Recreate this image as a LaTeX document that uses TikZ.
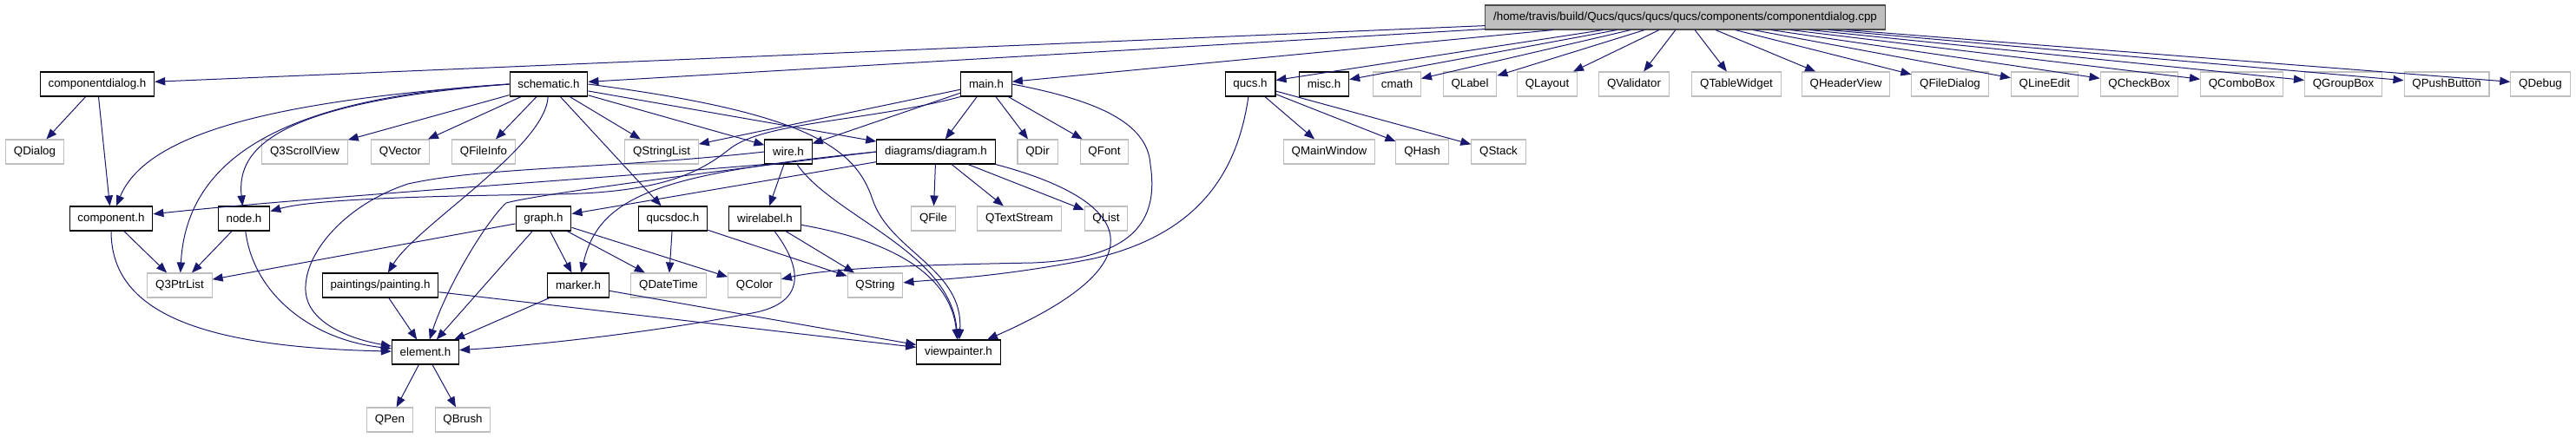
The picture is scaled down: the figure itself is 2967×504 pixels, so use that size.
\documentclass[tikz,border=0pt]{standalone}
\usepackage{fontspec}
\setmainfont{Liberation Sans}
\usepackage{tikz}
\usetikzlibrary{arrows.meta}
\usepackage{xcolor}
\definecolor{depblue}{RGB}{25,25,112}
\definecolor{extgray}{RGB}{191,191,191}
\definecolor{rootgray}{RGB}{191,191,191}

\begin{document}
\begin{tikzpicture}[
  x=0.75pt,y=-0.75pt,
  >={Triangle[length=9pt,width=7pt]},
  hdr/.style={draw=black,fill=white,line width=0.8pt,minimum height=21pt,inner xsep=7pt,inner ysep=0pt,font=\fontsize{10}{12}\selectfont},
  ext/.style={hdr,draw=extgray},
  rootfile/.style={hdr,fill=rootgray,draw=black!70},
  dep/.style={->,color=depblue,line width=0.75pt}
]
\useasboundingbox (0,0) rectangle (2967,504);

% Root: the file itself
\node[rootfile] (cpp) at (1941,20) {/home/travis/build/Qucs/qucs/qucs/qucs/components/componentdialog.cpp};

% Level 1: direct includes
\node[hdr] (cdlg) at (112,97) {componentdialog.h};
\node[hdr] (schem) at (632,97) {schematic.h};
\node[hdr] (mainh) at (1136,97) {main.h};
\node[hdr] (qucsh) at (1440,97) {qucs.h};
\node[hdr] (misch) at (1525,97) {misc.h};
\node[ext] (cmath) at (1609,97) {cmath};
\node[ext] (qlabel) at (1693,97) {QLabel};
\node[ext] (qlayout) at (1782,97) {QLayout};
\node[ext] (qvalid) at (1882,97) {QValidator};
\node[ext] (qtable) at (2000,97) {QTableWidget};
\node[ext] (qheader) at (2126,97) {QHeaderView};
\node[ext] (qfiledlg) at (2246,97) {QFileDialog};
\node[ext] (qlineedit) at (2355,97) {QLineEdit};
\node[ext] (qcheck) at (2464,97) {QCheckBox};
\node[ext] (qcombo) at (2582,97) {QComboBox};
\node[ext] (qgroup) at (2699,97) {QGroupBox};
\node[ext] (qpush) at (2818,97) {QPushButton};
\node[ext] (qdebug) at (2926,97) {QDebug};

% Level 2
\node[ext] (qdialog) at (40,175) {QDialog};
\node[ext] (qscroll) at (351,175) {Q3ScrollView};
\node[ext] (qvector) at (461,175) {QVector};
\node[ext] (qfileinfo) at (557,175) {QFileInfo};
\node[ext] (qstrlist) at (762,175) {QStringList};
\node[hdr] (wireh) at (908,175) {wire.h};
\node[hdr] (diagramh) at (1078,175) {diagrams/diagram.h};
\node[ext] (qdir) at (1195,175) {QDir};
\node[ext] (qfont) at (1272,175) {QFont};
\node[ext] (qmainwin) at (1531,175) {QMainWindow};
\node[ext] (qhash) at (1638,175) {QHash};
\node[ext] (qstack) at (1726,175) {QStack};

% Level 3
\node[hdr] (comph) at (128,252) {component.h};
\node[hdr] (nodeh) at (281,252) {node.h};
\node[hdr] (graphh) at (626,252) {graph.h};
\node[hdr] (qucsdoch) at (775,252) {qucsdoc.h};
\node[hdr] (wirelabelh) at (881,252) {wirelabel.h};
\node[ext] (qfile) at (1075,252) {QFile};
\node[ext] (qtextstream) at (1174,252) {QTextStream};
\node[ext] (qlist) at (1274,252) {QList};

% Level 4
\node[ext] (qptrlist) at (207,329) {Q3PtrList};
\node[hdr] (paintingh) at (438,329) {paintings/painting.h};
\node[hdr] (markerh) at (666,329) {marker.h};
\node[ext] (qdatetime) at (770,329) {QDateTime};
\node[ext] (qcolor) at (869,329) {QColor};
\node[ext] (qstring) at (1008,329) {QString};

% Level 5 and 6
\node[hdr] (elementh) at (490,406) {element.h};
\node[hdr] (viewpainterh) at (1104,406) {viewpainter.h};
\node[ext] (qpen) at (449,484) {QPen};
\node[ext] (qbrush) at (533,484) {QBrush};

% Includes of the cpp file
\draw[dep] (cpp) -- (cdlg);
\draw[dep] (cpp) -- (schem);
\draw[dep] (cpp) -- (mainh);
\draw[dep] (cpp) -- (qucsh);
\draw[dep] (cpp) -- (misch);
\draw[dep] (cpp) -- (cmath);
\draw[dep] (cpp) -- (qlabel);
\draw[dep] (cpp) -- (qlayout);
\draw[dep] (cpp) -- (qvalid);
\draw[dep] (cpp) -- (qtable);
\draw[dep] (cpp) -- (qheader);
\draw[dep] (cpp) -- (qfiledlg);
\draw[dep] (cpp) -- (qlineedit);
\draw[dep] (cpp) -- (qcheck);
\draw[dep] (cpp) -- (qcombo);
\draw[dep] (cpp) -- (qgroup);
\draw[dep] (cpp) -- (qpush);
\draw[dep] (cpp) -- (qdebug);

% componentdialog.h
\draw[dep] (cdlg) -- (qdialog);
\draw[dep] (cdlg) -- (comph);

% schematic.h
\draw[dep] (schem.west) .. controls (330,115) and (170,150) .. (comph);
\draw[dep] (schem.west) .. controls (330,112) and (215,180) .. (qptrlist);
\draw[dep] (schem.west) .. controls (320,118) and (272,170) .. (nodeh);
\draw[dep] (schem) -- (qscroll);
\draw[dep] (schem) -- (qvector);
\draw[dep] (schem) -- (qfileinfo);
\draw[dep] (schem) .. controls (628,170) and (480,260) .. (paintingh);
\draw[dep] (schem) -- (qucsdoch);
\draw[dep] (schem) -- (qstrlist);
\draw[dep] (schem) -- (wireh);
\draw[dep] (schem) -- (diagramh);
\draw[dep] (schem.east) .. controls (930,130) and (985,170) .. (1005,230)
  .. controls (1025,290) and (1110,310) .. (viewpainterh);

% main.h
\draw[dep] (mainh) -- (qstrlist);
\draw[dep] (mainh) -- (wireh);
\draw[dep] (mainh.south west) .. controls (1000,140) and (880,140) .. (840,172)
  .. controls (805,200) and (760,222) .. (640,224)
  .. controls (480,226) and (360,230) .. (nodeh);
\draw[dep] (mainh) -- (diagramh);
\draw[dep] (mainh) -- (qdir);
\draw[dep] (mainh) -- (qfont);
\draw[dep] (mainh.east) .. controls (1260,115) and (1322,140) .. (1325,190)
  .. controls (1335,255) and (1305,298) .. (1190,303)
  .. controls (1080,305) and (960,308) .. (qcolor);

% qucs.h
\draw[dep] (qucsh) -- (qmainwin);
\draw[dep] (qucsh) -- (qhash);
\draw[dep] (qucsh) -- (qstack);
\draw[dep] (qucsh) .. controls (1425,200) and (1380,270) .. (1260,298)
  .. controls (1150,320) and (1080,322) .. (qstring);

% wire.h
\draw[dep] (wireh.south west) .. controls (700,205) and (350,228) .. (comph);
\draw[dep] (wireh.west) .. controls (700,195) and (560,192) .. (470,212)
  .. controls (400,235) and (350,290) .. (352,335)
  .. controls (354,375) and (410,392) .. (elementh);
\draw[dep] (wireh) -- (wirelabelh);
\draw[dep] (wireh) .. controls (960,250) and (1095,290) .. (viewpainterh);

% diagrams/diagram.h
\draw[dep] (diagramh) -- (graphh);
\draw[dep] (diagramh.west) .. controls (760,200) and (690,225) .. (markerh);
\draw[dep] (diagramh.west) .. controls (800,200) and (615,225) .. (583,234)
  .. controls (560,255) and (515,330) .. (elementh);
\draw[dep] (diagramh) -- (qfile);
\draw[dep] (diagramh) -- (qtextstream);
\draw[dep] (diagramh) -- (qlist);
\draw[dep] (diagramh.south east) .. controls (1300,230) and (1345,300) .. (viewpainterh);

% component.h, node.h
\draw[dep] (comph) -- (qptrlist);
\draw[dep] (comph) .. controls (128,360) and (230,400) .. (elementh);
\draw[dep] (nodeh) -- (qptrlist);
\draw[dep] (nodeh) .. controls (292,340) and (360,392) .. (elementh);

% graph.h
\draw[dep] (graphh) -- (qptrlist);
\draw[dep] (graphh) -- (elementh);
\draw[dep] (graphh) -- (markerh);
\draw[dep] (graphh) -- (qdatetime);
\draw[dep] (graphh) -- (qcolor);

% qucsdoc.h, wirelabel.h
\draw[dep] (qucsdoch) -- (qdatetime);
\draw[dep] (qucsdoch) -- (qstring);
\draw[dep] (wirelabelh) -- (qstring);
\draw[dep] (wirelabelh) .. controls (1030,278) and (1095,318) .. (viewpainterh);
\draw[dep] (wirelabelh) .. controls (925,310) and (930,352) .. (860,362)
  .. controls (760,382) and (620,398) .. (elementh);

% painting.h, marker.h
\draw[dep] (paintingh) -- (elementh);
\draw[dep] (paintingh) -- (viewpainterh);
\draw[dep] (markerh) -- (elementh);
\draw[dep] (markerh) -- (viewpainterh);

% element.h
\draw[dep] (elementh) -- (qpen);
\draw[dep] (elementh) -- (qbrush);

\end{tikzpicture}
\end{document}
